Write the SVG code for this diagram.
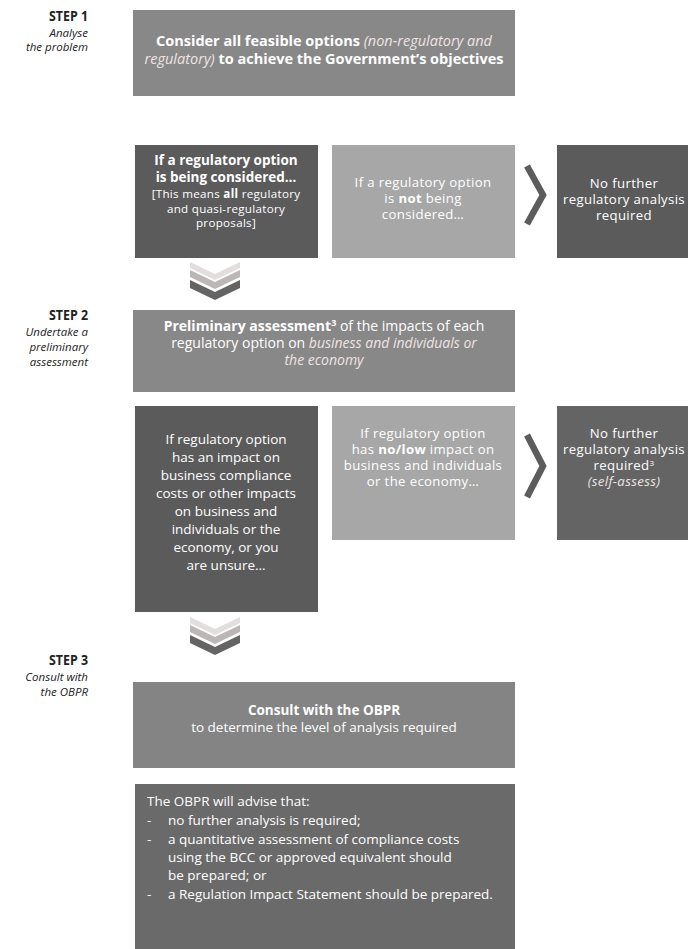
<svg xmlns="http://www.w3.org/2000/svg" width="688" height="949" viewBox="0 0 688 949">
<style>
text{font-family:"Open Sans","Liberation Sans",sans-serif;fill:#ffffff}
.step{font-size:15px;font-weight:bold;fill:#222;text-anchor:end}
.sub{font-size:11.5px;font-style:italic;fill:#222;text-anchor:end}
.c{text-anchor:middle}
.b{font-weight:bold}
.i{font-style:italic;fill:#eee4e4}
.tight{font-size:13.2px;letter-spacing:0.35px}
.small{font-size:11.6px;letter-spacing:0.3px}
.dark{fill:#5b5b5b}
.mid{fill:#888888}
.light{fill:#a7a7a7}
.arrow{fill:none;stroke:#5c5c5c;stroke-width:6.5;stroke-linejoin:miter}
</style>
<defs>
<g id="vchev">
<polygon points="0,0 25,12 50,0 50,6 25,18 0,6" fill="#e2dede"/>
<polygon points="0,8 25,20 50,8 50,15 25,27 0,15" fill="#bdb6b6"/>
<polygon points="0,18 25,30 50,18 50,26 25,38 0,26" fill="#646464"/>
</g>
</defs>

<g id="step-labels">
<text class="step" x="88" y="21" textLength="39" lengthAdjust="spacingAndGlyphs">STEP 1</text>
<text class="sub" x="88" y="37">Analyse</text>
<text class="sub" x="88" y="51">the problem</text>
<text class="step" x="88" y="320" textLength="39" lengthAdjust="spacingAndGlyphs">STEP 2</text>
<text class="sub" x="88" y="336">Undertake a</text>
<text class="sub" x="88" y="351">preliminary</text>
<text class="sub" x="88" y="366">assessment</text>
<text class="step" x="88" y="665" textLength="39" lengthAdjust="spacingAndGlyphs">STEP 3</text>
<text class="sub" x="88" y="681">Consult with</text>
<text class="sub" x="88" y="696">the OBPR</text>
</g>

<g id="consider-options">
<rect class="mid" x="133" y="10" width="382" height="86"/>
<text class="c" font-size="14.5" x="324" y="46"><tspan class="b">Consider all feasible options </tspan><tspan class="i">(non-regulatory and</tspan></text>
<text class="c" font-size="14.5" x="324" y="64"><tspan class="i">regulatory)</tspan><tspan class="b"> to achieve the Government’s objectives</tspan></text>
</g>

<g id="regulatory-considered">
<rect class="dark" x="135" y="145" width="183" height="113"/>
<text class="c b" font-size="13.5" x="226" y="165">If a regulatory option</text>
<text class="c b" font-size="13.5" x="226" y="182">is being considered…</text>
<text class="c small" x="226" y="198">[This means <tspan class="b">all</tspan> regulatory</text>
<text class="c small" x="226" y="212.5">and quasi-regulatory</text>
<text class="c small" x="226" y="227">proposals]</text>
</g>

<g id="regulatory-not-considered">
<rect class="light" x="332" y="145" width="183" height="113"/>
<text class="c tight" x="423" y="187">If a regulatory option</text>
<text class="c tight" x="423" y="203">is <tspan class="b">not</tspan> being</text>
<text class="c tight" x="423" y="219">considered…</text>
</g>

<g id="no-further-1">
<rect class="dark" x="557" y="145" width="131" height="113"/>
<text class="c tight" x="624" y="188">No further</text>
<text class="c tight" x="624" y="204">regulatory analysis</text>
<text class="c tight" x="624" y="220">required</text>
</g>

<g id="preliminary-assessment">
<rect class="mid" x="133" y="310" width="382" height="82"/>
<text class="c" font-size="14" x="324" y="331"><tspan class="b">Preliminary assessment</tspan><tspan class="b" font-size="9" dy="-5">3</tspan><tspan dy="5"> of the impacts of each</tspan></text>
<text class="c" font-size="14" x="324" y="348">regulatory option on <tspan class="i">business and individuals or</tspan></text>
<text class="c" font-size="14" x="324" y="365"><tspan class="i">the economy</tspan></text>
</g>

<g id="has-impact">
<rect class="dark" x="135" y="406" width="183" height="206"/>
<text class="c" font-size="13.5" x="226" y="444">If regulatory option</text>
<text class="c" font-size="13.5" x="226" y="462">has an impact on</text>
<text class="c" font-size="13.5" x="226" y="480">business compliance</text>
<text class="c" font-size="13.5" x="226" y="498">costs or other impacts</text>
<text class="c" font-size="13.5" x="226" y="516">on business and</text>
<text class="c" font-size="13.5" x="226" y="534">individuals or the</text>
<text class="c" font-size="13.5" x="226" y="552">economy, or you</text>
<text class="c" font-size="13.5" x="226" y="570">are unsure…</text>
</g>

<g id="no-low-impact">
<rect class="light" x="332" y="406" width="183" height="134"/>
<text class="c tight" x="423" y="438">If regulatory option</text>
<text class="c tight" x="423" y="454">has <tspan class="b">no/low</tspan> impact on</text>
<text class="c tight" x="423" y="470">business and individuals</text>
<text class="c tight" x="423" y="486">or the economy…</text>
</g>

<g id="no-further-2">
<rect fill="#646464" x="557" y="406" width="131" height="134"/>
<text class="c tight" x="624" y="438">No further</text>
<text class="c tight" x="624" y="454">regulatory analysis</text>
<text class="c tight" x="624" y="470">required<tspan font-size="8" dy="-4">3</tspan></text>
<text class="c tight" x="624" y="486"><tspan class="i">(self-assess)</tspan></text>
</g>

<g id="consult-obpr">
<rect fill="#848484" x="133" y="682" width="382" height="86"/>
<text class="c b" font-size="13.5" x="324" y="715">Consult with the OBPR</text>
<text class="c" font-size="13.5" x="324" y="732">to determine the level of analysis required</text>
</g>

<g id="obpr-advice" font-size="13.5">
<rect fill="#6a6a6a" x="135" y="784" width="380" height="165"/>
<text x="147" y="806">The OBPR will advise that:</text>
<text x="147" y="825">-</text>
<text x="168" y="825">no further analysis is required;</text>
<text x="147" y="844">-</text>
<text x="168" y="844">a quantitative assessment of compliance costs</text>
<text x="168" y="862">using the BCC or approved equivalent should</text>
<text x="168" y="880">be prepared; or</text>
<text x="147" y="899">-</text>
<text x="168" y="899">a Regulation Impact Statement should be prepared.</text>
</g>

<g id="connectors">
<use href="#vchev" x="190" y="262"/>
<use href="#vchev" x="190" y="617"/>
<polyline class="arrow" points="527,166 543,195 527,224"/>
<polyline class="arrow" points="527,435 543,466 527,497"/>
</g>
</svg>
